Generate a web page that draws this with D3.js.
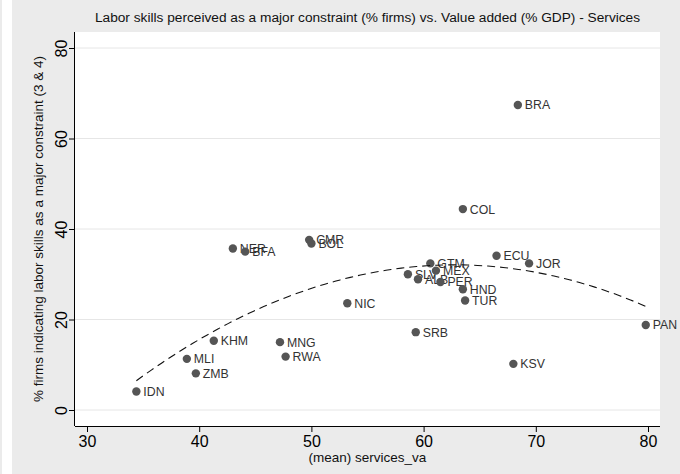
<!DOCTYPE html>
<html>
<head>
<meta charset="utf-8">
<script src="https://cdn.jsdelivr.net/npm/d3@7"></script>
<style>
  html, body { margin: 0; padding: 0; background: #fff; }
  svg { display: block; font-family: "Liberation Sans", Arial, sans-serif; }
</style>
</head>
<body>
<svg id="chart" width="680" height="474"></svg>
<script>
// Country codes, services value added (% GDP) and % firms citing labor skills as a major constraint
const countries = ["IDN","MLI","ZMB","KHM","MNG","RWA","NER","BFA","CMR","BOL","NIC","SLV","ALB","GTM","MEX","PER","HND","TUR","SRB","COL","ECU","JOR","BRA","KSV","PAN"];
const servicesVA = [34.4, 38.9, 39.7, 41.3, 47.2, 47.7, 43.0, 44.1, 49.8, 50.0, 53.2, 58.6, 59.5, 60.6, 61.1, 61.5, 63.5, 63.7, 59.3, 63.5, 66.5, 69.4, 68.4, 68.0, 79.8];
const laborSkills = [4.1, 11.3, 8.1, 15.3, 15.0, 11.8, 35.7, 35.0, 37.6, 36.8, 23.6, 30.0, 28.9, 32.4, 30.8, 28.3, 26.7, 24.2, 17.2, 44.4, 34.1, 32.4, 67.4, 10.2, 18.8];

const xTicks = [30, 40, 50, 60, 70, 80];
const yTicks = [0, 20, 40, 60, 80];

const titleText = "Labor skills perceived as a major constraint (% firms) vs. Value added (% GDP) - Services";
const xTitle = "(mean) services_va";
const yTitle = "% firms indicating labor skills as a major constraint (3 & 4)";

const svg = d3.select("#chart");
const W = 680, H = 474;

// page frame
svg.append("rect").attr("x", 0).attr("y", 0).attr("width", W).attr("height", H).attr("fill", "#ebebeb");
svg.append("rect").attr("x", 2).attr("y", 0).attr("width", 10).attr("height", H).attr("fill", "#ffffff");

// plot region
const plot = { left: 75, right: 660, top: 32, bottom: 426 };

const x = d3.scaleLinear().domain([30, 80]).range([87, 648]);
const y = d3.scaleLinear().domain([0, 80]).range([410, 48]);

svg.append("rect")
  .attr("x", plot.left).attr("y", plot.top)
  .attr("width", plot.right - plot.left).attr("height", plot.bottom - plot.top)
  .attr("fill", "#ffffff");

// horizontal gridlines
svg.append("g").selectAll("line").data(yTicks).join("line")
  .attr("x1", plot.left).attr("x2", plot.right)
  .attr("y1", d => y(d)).attr("y2", d => y(d))
  .attr("stroke", "#e6e6e6").attr("stroke-width", 1);

// quadratic least-squares fit of laborSkills on servicesVA
function quadFit(xs, ys) {
  const n = xs.length;
  let s = [0, 0, 0, 0, 0], t = [0, 0, 0];
  for (let i = 0; i < n; i++) {
    const xi = xs[i], yi = ys[i];
    for (let k = 0; k < 5; k++) s[k] += Math.pow(xi, k);
    for (let k = 0; k < 3; k++) t[k] += yi * Math.pow(xi, k);
  }
  const A = [[s[0], s[1], s[2], t[0]], [s[1], s[2], s[3], t[1]], [s[2], s[3], s[4], t[2]]];
  for (let c = 0; c < 3; c++) {
    let p = c;
    for (let r = c + 1; r < 3; r++) if (Math.abs(A[r][c]) > Math.abs(A[p][c])) p = r;
    [A[c], A[p]] = [A[p], A[c]];
    for (let r = 0; r < 3; r++) {
      if (r === c) continue;
      const f = A[r][c] / A[c][c];
      for (let k = c; k < 4; k++) A[r][k] -= f * A[c][k];
    }
  }
  return [A[0][3] / A[0][0], A[1][3] / A[1][1], A[2][3] / A[2][2]];
}
const coef = quadFit(servicesVA, laborSkills);
const [xMin, xMax] = d3.extent(servicesVA);
const fitPts = d3.range(0, 101).map(i => {
  const xv = xMin + (xMax - xMin) * i / 100;
  return [xv, coef[0] + coef[1] * xv + coef[2] * xv * xv];
});

// scatter points
const pts = countries.map((c, i) => ({ c, xv: servicesVA[i], yv: laborSkills[i] }));
const gPts = svg.append("g");
pts.forEach(d => {
  gPts.append("circle")
    .attr("cx", x(d.xv)).attr("cy", y(d.yv)).attr("r", 4.2)
    .attr("fill", "#555555");
  gPts.append("text")
    .attr("x", x(d.xv) + 7).attr("y", y(d.yv))
    .attr("dy", "0.36em")
    .attr("font-size", 12.3).attr("fill", "#333333")
    .text(d.c);
});

// fitted curve
svg.append("path")
  .datum(fitPts)
  .attr("d", d3.line().x(d => x(d[0])).y(d => y(d[1])))
  .attr("fill", "none").attr("stroke", "#111111")
  .attr("stroke-width", 1.1).attr("stroke-dasharray", "8,5");

// axes
const xAxis = d3.axisBottom(x).tickValues(xTicks).tickSize(6).tickPadding(4);
const gx = svg.append("g").attr("transform", `translate(0,${plot.bottom})`).call(xAxis);
gx.select(".domain").attr("d", `M${plot.left},0.5H${plot.right}`).attr("stroke", "#000");
gx.selectAll(".tick line").attr("stroke", "#000");
gx.selectAll(".tick text").attr("font-size", 16).attr("fill", "#000")
  .attr("font-family", "'Liberation Sans', Arial, sans-serif");

const yAxis = d3.axisLeft(y).tickValues(yTicks).tickSize(6).tickPadding(0);
const gy = svg.append("g").attr("transform", `translate(${plot.left},0)`).call(yAxis);
gy.select(".domain").attr("d", `M-0.5,${plot.top}V${plot.bottom}`).attr("stroke", "#000");
gy.selectAll(".tick line").attr("stroke", "#000");
gy.selectAll(".tick text")
  .attr("font-size", 16).attr("fill", "#000")
  .attr("font-family", "'Liberation Sans', Arial, sans-serif")
  .attr("x", null).attr("dy", null)
  .attr("text-anchor", "middle")
  .attr("transform", "translate(-8,0) rotate(-90)");

// titles
svg.append("text")
  .attr("x", (plot.left + plot.right) / 2).attr("y", 22)
  .attr("text-anchor", "middle").attr("font-size", 13.7).attr("fill", "#111")
  .text(titleText);

svg.append("text")
  .attr("x", (plot.left + plot.right) / 2).attr("y", 462)
  .attr("text-anchor", "middle").attr("font-size", 13.5).attr("fill", "#111")
  .text(xTitle);

svg.append("text")
  .attr("transform", `translate(43,${(plot.top + plot.bottom) / 2}) rotate(-90)`)
  .attr("text-anchor", "middle").attr("font-size", 13.5).attr("fill", "#111")
  .text(yTitle);
</script>
</body>
</html>
